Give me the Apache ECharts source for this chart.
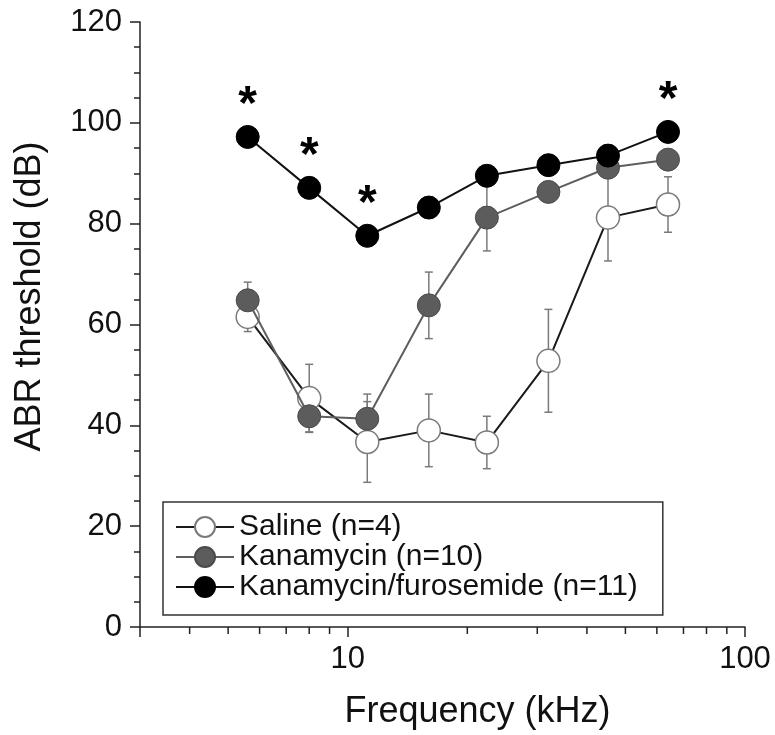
<!DOCTYPE html>
<html>
<head>
<meta charset="utf-8">
<script src="https://cdn.jsdelivr.net/npm/echarts@6/dist/echarts.min.js"></script>
<style>
  html, body { margin: 0; padding: 0; background: #fff; }
  #chart { width: 775px; height: 735px; }
</style>
</head>
<body>
<div id="chart"></div>
<script>
// frequencies (kHz), half-octave steps
var freq = [5.6, 8, 11.2, 16, 22.4, 32, 45.2, 64];

// mean ABR threshold (dB) and error (SE)
var salineMean = [61.5, 45.4, 36.7, 39.0, 36.6, 52.8, 81.2, 83.8];
var salineErr  = [2.9, 6.7, 8.0, 7.2, 5.2, 10.2, 8.6, 5.5];
var kanaMean   = [64.8, 41.8, 41.3, 63.8, 81.2, 86.3, 91.1, 92.7];
var kanaErr    = [3.6, 3.2, 4.9, 6.6, 6.6, 2.0, 2.0, 2.0];
var furoMean   = [97.2, 87.1, 77.6, 83.2, 89.5, 91.6, 93.5, 98.2];
var furoErr    = [2.0, 2.0, 2.0, 2.0, 2.0, 2.0, 2.0, 2.0];
// significance markers (1 = asterisk)
var furoSig    = [1, 1, 1, 0, 0, 0, 0, 1];

var seriesNames = ['Saline (n=4)', 'Kanamycin (n=10)', 'Kanamycin/furosemide (n=11)'];

// x axis minor ticks
var minorX = [4, 5, 6, 7, 8, 9, 20, 30, 40, 50, 60, 70, 80, 90];

var font = 'Liberation Sans, Arial, Helvetica, sans-serif';

function pairs(ys) {
    return freq.map(function (f, i) { return [f, ys[i]]; });
}
function errData(ys, es) {
    return freq.map(function (f, i) { return [f, ys[i], es[i]]; });
}

// vertical error bars with small caps
function renderErr(params, api) {
    var x = api.value(0), y = api.value(1), e = api.value(2);
    var top = api.coord([x, y + e]);
    var bot = api.coord([x, y - e]);
    var w = 4;
    var st = { stroke: '#7a7a7a', lineWidth: 1.5 };
    return {
        type: 'group',
        children: [
            { type: 'line', shape: { x1: top[0], y1: top[1], x2: bot[0], y2: bot[1] }, style: st },
            { type: 'line', shape: { x1: top[0] - w, y1: top[1], x2: top[0] + w, y2: top[1] }, style: st },
            { type: 'line', shape: { x1: bot[0] - w, y1: bot[1], x2: bot[0] + w, y2: bot[1] }, style: st }
        ]
    };
}

var myChart = echarts.init(document.getElementById('chart'));

var option = {
    backgroundColor: '#fff',
    animation: false,
    textStyle: { fontFamily: font },
    grid: { left: 140, right: 30, top: 22, bottom: 105 },
    legend: {
        orient: 'vertical',
        left: 163,
        top: 502,
        data: seriesNames,
        itemWidth: 58,
        itemHeight: 25,
        itemGap: 0,
        padding: [10, 25, 13, 12],
        borderColor: '#333',
        borderWidth: 1.5,
        textStyle: { fontSize: 30, color: '#111', fontFamily: font, lineHeight: 28 }
    },
    xAxis: {
        type: 'log',
        logBase: 10,
        min: 3,
        max: 100,
        name: 'Frequency (kHz)',
        nameLocation: 'middle',
        nameGap: 67,
        nameTextStyle: { fontSize: 36, color: '#111', fontFamily: font, padding: [0, 0, 0, 70] },
        axisLine: { lineStyle: { color: '#222', width: 1.5 } },
        axisTick: { show: true, length: 10, lineStyle: { color: '#222', width: 1.5 } },
        axisLabel: {
            fontSize: 31, color: '#111', margin: 17,
            formatter: function (v) {
                var l = Math.log(v) / Math.LN10;
                return Math.abs(l - Math.round(l)) < 1e-6 ? String(Math.round(v)) : '';
            }
        },
        splitLine: { show: false }
    },
    yAxis: {
        type: 'value',
        min: 0,
        max: 120,
        interval: 20,
        name: 'ABR threshold (dB)',
        nameLocation: 'middle',
        nameGap: 92,
        nameTextStyle: { fontSize: 36, color: '#111', fontFamily: font, padding: [0, 0, 0, 56] },
        axisLine: { show: true, lineStyle: { color: '#222', width: 1.5 } },
        axisTick: { show: true, length: 10, lineStyle: { color: '#222', width: 1.5 } },
        minorTick: { show: true, splitNumber: 4, length: 6, lineStyle: { color: '#222', width: 1.5 } },
        axisLabel: { fontSize: 31, color: '#111', margin: 18 },
        splitLine: { show: false }
    },
    series: [
        {
            type: 'custom',
            name: 'xMinorTicks',
            silent: true,
            clip: false,
            z: 1,
            data: minorX.map(function (v) { return [v, 0]; }),
            renderItem: function (params, api) {
                var p = api.coord([api.value(0), 0]);
                return {
                    type: 'line',
                    shape: { x1: p[0], y1: p[1], x2: p[0], y2: p[1] + 7 },
                    style: { stroke: '#222', lineWidth: 1.5 }
                };
            }
        },
        { type: 'custom', name: 'salineErr', silent: true, z: 1, data: errData(salineMean, salineErr), renderItem: renderErr },
        { type: 'custom', name: 'kanaErr', silent: true, z: 1, data: errData(kanaMean, kanaErr), renderItem: renderErr },
        { type: 'custom', name: 'furoErr', silent: true, z: 1, data: errData(furoMean, furoErr), renderItem: renderErr },
        {
            type: 'line',
            name: seriesNames[0],
            z: 2,
            data: pairs(salineMean),
            symbol: 'circle',
            symbolSize: 23,
            lineStyle: { color: '#1a1a1a', width: 2 },
            itemStyle: { color: '#ffffff', borderColor: '#7a7a7a', borderWidth: 1.5 }
        },
        {
            type: 'line',
            name: seriesNames[1],
            z: 3,
            data: pairs(kanaMean),
            symbol: 'circle',
            symbolSize: 23,
            lineStyle: { color: '#5e5e5e', width: 2 },
            itemStyle: { color: '#5c5c5c', borderColor: '#4a4a4a', borderWidth: 1 }
        },
        {
            type: 'line',
            name: seriesNames[2],
            z: 4,
            data: freq.map(function (f, i) {
                var item = { value: [f, furoMean[i]] };
                if (furoSig[i]) {
                    item.label = {
                        show: true,
                        formatter: '*',
                        position: 'top',
                        distance: 0,
                        offset: [0, 5],
                        fontSize: 48,
                        fontWeight: 'bold',
                        color: '#000',
                        fontFamily: font
                    };
                }
                return item;
            }),
            symbol: 'circle',
            symbolSize: 23,
            lineStyle: { color: '#111', width: 2 },
            itemStyle: { color: '#000', borderColor: '#000', borderWidth: 1 }
        }
    ]
};

myChart.setOption(option);
window.addEventListener('resize', function () {
    myChart.resize();
});
</script>
</body>
</html>
